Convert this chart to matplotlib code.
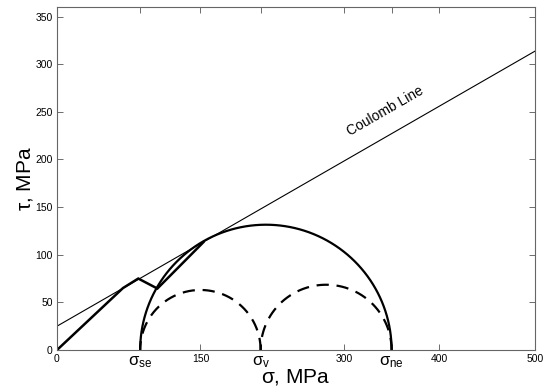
import numpy as np
import matplotlib
matplotlib.use("Agg")
import matplotlib.pyplot as plt

plt.rcParams["font.family"] = ["Liberation Sans", "DejaVu Sans"]
plt.rcParams["mathtext.fontset"] = "custom"
plt.rcParams["mathtext.rm"] = "Liberation Sans"
plt.rcParams["mathtext.it"] = "Liberation Sans"
plt.rcParams["mathtext.sf"] = "Liberation Sans"

# Principal stresses (MPa)
sigma_se = 87.0
sigma_v = 213.0
sigma_ne = 350.0

# Coulomb failure envelope: tau = cohesion + sigma * tan(phi)
cohesion = 25.0
friction_angle_deg = 30.0

# Stress path (sigma, tau)
path_sigma = [0, 69, 85, 105, 153]
path_tau = [0, 65, 75, 64.5, 113]

x_ticks = [0, sigma_se, 150, sigma_v, 300, sigma_ne, 400, 500]
x_tick_labels = ["0", r"$\sigma_{se}$", "150", r"$\sigma_{v}$", "300", r"$\sigma_{ne}$", "400", "500"]
y_ticks = [0, 50, 100, 150, 200, 250, 300, 350]


def upper_circle(s1, s2, n=400):
    c = 0.5 * (s1 + s2)
    r = 0.5 * (s2 - s1)
    t = np.linspace(0, np.pi, n)
    return c + r * np.cos(t), r * np.sin(t)


fig = plt.figure(figsize=(5.43, 3.89), dpi=100)
ax = fig.add_axes([57 / 543, 1 - 350 / 389, (535 - 57) / 543, (350 - 7) / 389])

# Mohr circles
x, y = upper_circle(sigma_se, sigma_ne)
ax.plot(x, y, color="black", lw=1.6)
for a, b in [(sigma_se, sigma_v), (sigma_v, sigma_ne)]:
    x, y = upper_circle(a, b)
    ax.plot(x, y, color="black", lw=1.6, linestyle=(0, (5.5, 3.5)))

# Coulomb line
xs = np.array([0, 500])
ax.plot(xs, cohesion + xs * np.tan(np.radians(friction_angle_deg)), color="black", lw=0.8)

# Stress path
ax.plot(path_sigma, path_tau, color="black", lw=1.8, solid_joinstyle="miter")

ax.text(343, 251, "Coulomb Line", rotation=29.9, ha="center", va="center", fontsize=10,
        rotation_mode="anchor")

ax.set_xlim(0, 500)
ax.set_ylim(0, 360)
ax.set_xticks(x_ticks)
ax.set_xticklabels(x_tick_labels)
ax.set_yticks(y_ticks)
for lbl in ax.get_xticklabels():
    if lbl.get_text().startswith("$"):
        lbl.set_fontsize(12)
    else:
        lbl.set_fontsize(7.5)
ax.tick_params(axis="y", labelsize=7.5)
ax.tick_params(direction="in", length=4, width=0.6, color="#555555", top=True, right=True, pad=3)
for s in ax.spines.values():
    s.set_color("#666666")
    s.set_linewidth(0.8)

ax.set_xlabel(r"$\sigma$, MPa", fontsize=15, labelpad=-2)
ax.set_ylabel(r"$\tau$, MPa", fontsize=15, labelpad=0)

fig.savefig("out.png", dpi=100)
